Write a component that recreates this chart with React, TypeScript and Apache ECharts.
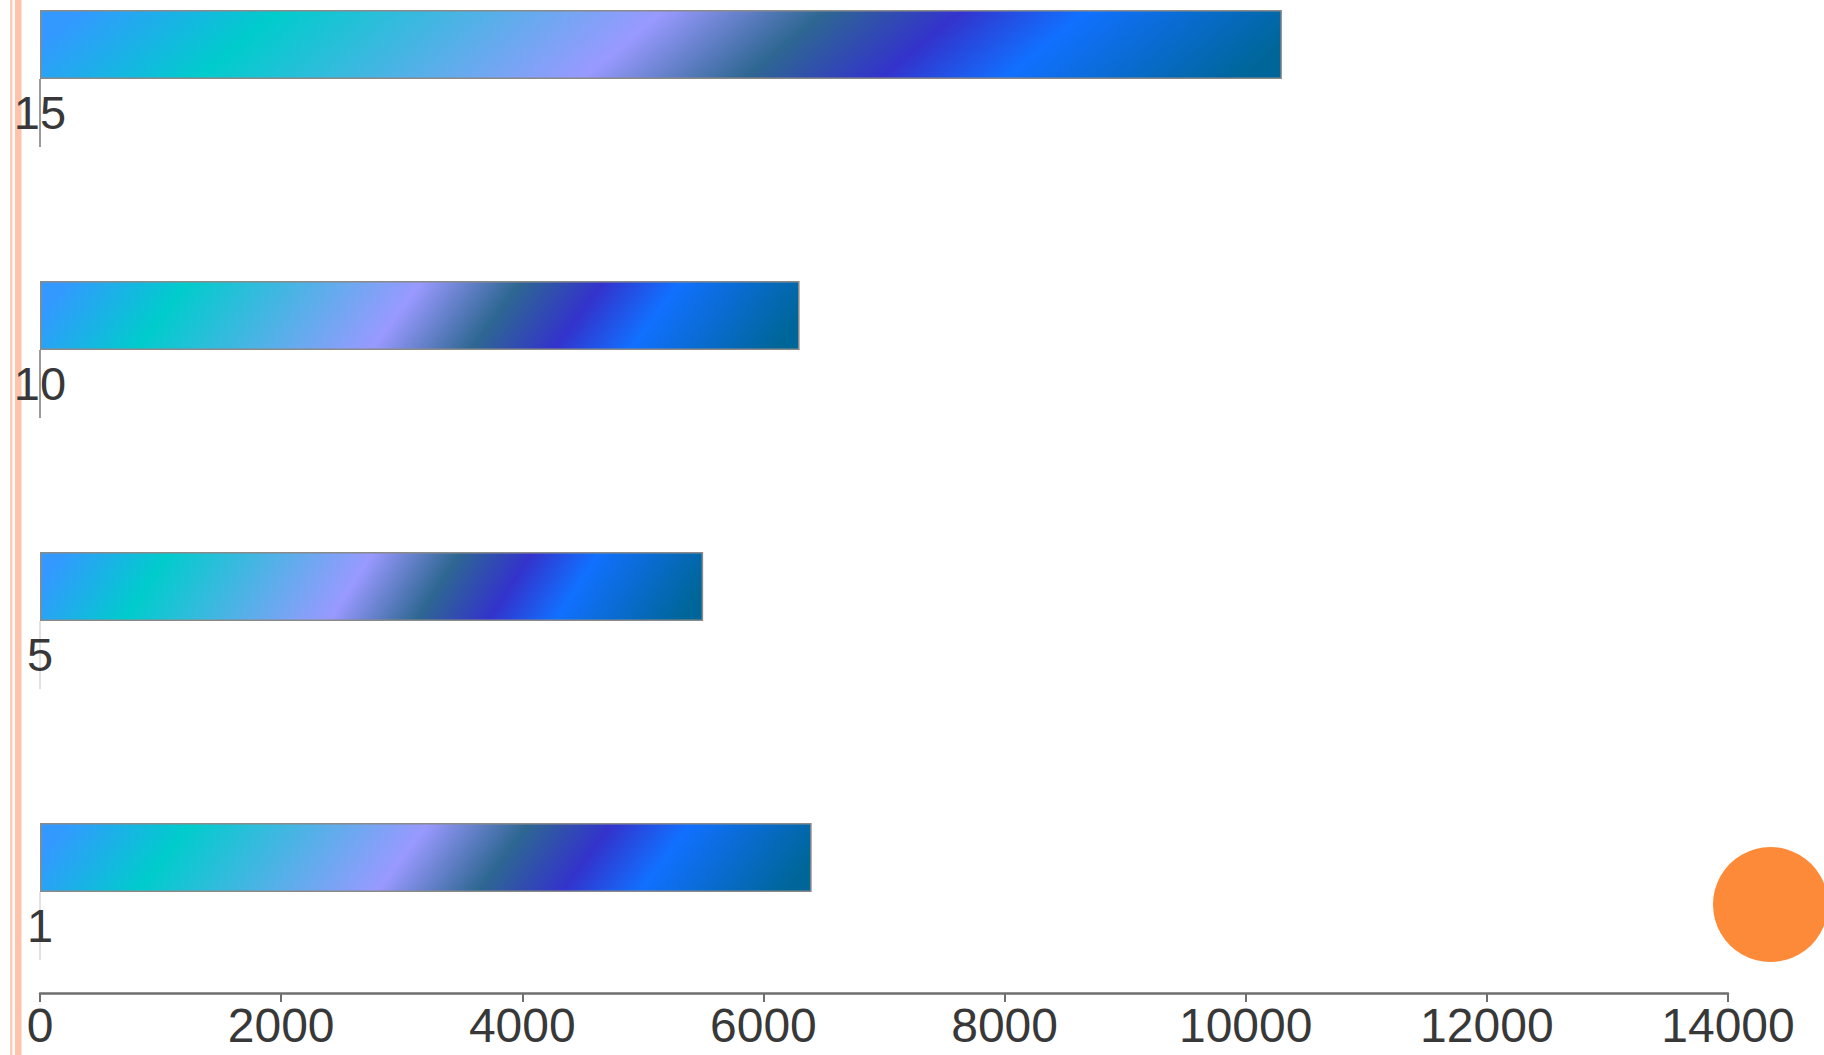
import React, { useEffect, useRef } from "react";
import * as echarts from "echarts";

const categories = ["1", "5", "10", "15"];
const values = [6400, 5500, 6300, 10300];
const xTicks = [0, 2000, 4000, 6000, 8000, 10000, 12000, 14000];

const peacockStops = [
  { offset: 0, color: "#3399FF" },
  { offset: 0.16, color: "#00CCCC" },
  { offset: 0.47, color: "#9999FF" },
  { offset: 0.6, color: "#2E6792" },
  { offset: 0.71, color: "#3333CC" },
  { offset: 0.81, color: "#1170FF" },
  { offset: 1, color: "#006699" },
];

const BAR_H = 69;
const SLANT = 0.065;
const FONT = "'Liberation Sans', Arial, sans-serif";

function peacockGradient() {
  const k = 1 + SLANT * SLANT;
  return {
    type: "linear",
    x: 0,
    y: 0.5,
    x2: 1 / k,
    y2: 0.5 + SLANT / k,
    colorStops: peacockStops,
  };
}

export default function App() {
  const ref = useRef<HTMLDivElement>(null);
  useEffect(() => {
    if (!ref.current) return;
    const chart = echarts.init(ref.current, null, { renderer: "svg" });
    const option: any = {
      animation: false,
      backgroundColor: "#ffffff",
      grid: {
        left: 40,
        right: 96,
        top: -91,
        bottom: 62,
        containLabel: false,
        outerBoundsMode: "none",
      },
      xAxis: {
        type: "value",
        min: 0,
        max: 14000,
        interval: 2000,
        splitLine: { show: false },
        axisLine: { show: true, lineStyle: { color: "#6e6e6e", width: 2.5 } },
        axisTick: { show: true, length: 9, lineStyle: { color: "#6e6e6e", width: 2 } },
        axisLabel: {
          color: "#383838",
          fontSize: 48,
          fontFamily: FONT,
          margin: 8,
          formatter: (v: number) => (xTicks.includes(v) ? String(v) : ""),
        },
      },
      yAxis: {
        type: "category",
        data: categories,
        z: 5,
        axisLine: { show: false },
        axisTick: { show: false },
        splitLine: { show: false },
        axisLabel: {
          color: "#383838",
          fontSize: 47,
          fontFamily: FONT,
          margin: 0,
          align: "center",
          verticalAlign: "middle",
          lineHeight: 135,
          formatter: (v: string) => "\n" + v,
        },
      },
      graphic: [
        { type: "rect", shape: { x: 10, y: 0, width: 2.5, height: 1055 }, style: { fill: "#FBCDB9" }, silent: true },
        { type: "rect", shape: { x: 15, y: 0, width: 6.5, height: 1055 }, style: { fill: "#FDC3AB" }, silent: true },
        { type: "circle", shape: { cx: 1770.5, cy: 904.5, r: 57.5 }, style: { fill: "#FD8A38" }, silent: true },
      ],
      series: [
        {
          type: "custom",
          z: 1,
          silent: true,
          data: categories.map((_, i) => [0, i]),
          renderItem: (params: any, api: any) => {
            const p = api.coord([0, api.value(1)]);
            const idx = params.dataIndex;
            return {
              type: "line",
              shape: { x1: p[0], y1: p[1] + BAR_H / 2, x2: p[0], y2: p[1] + BAR_H / 2 + 68 },
              style: { stroke: idx >= 2 ? "#9a9a9a" : "#e2e2e2", lineWidth: 2 },
            };
          },
        },
        {
          type: "bar",
          z: 2,
          barWidth: BAR_H,
          data: values,
          itemStyle: { color: peacockGradient(), borderColor: "#8a8a8a", borderWidth: 1.5 },
        },
      ],
    };
    chart.setOption(option);
    return () => chart.dispose();
  }, []);
  return (
    <div
      ref={ref}
      style={{ position: "fixed", left: 0, top: 0, width: 1824, height: 1055 }}
    />
  );
}
